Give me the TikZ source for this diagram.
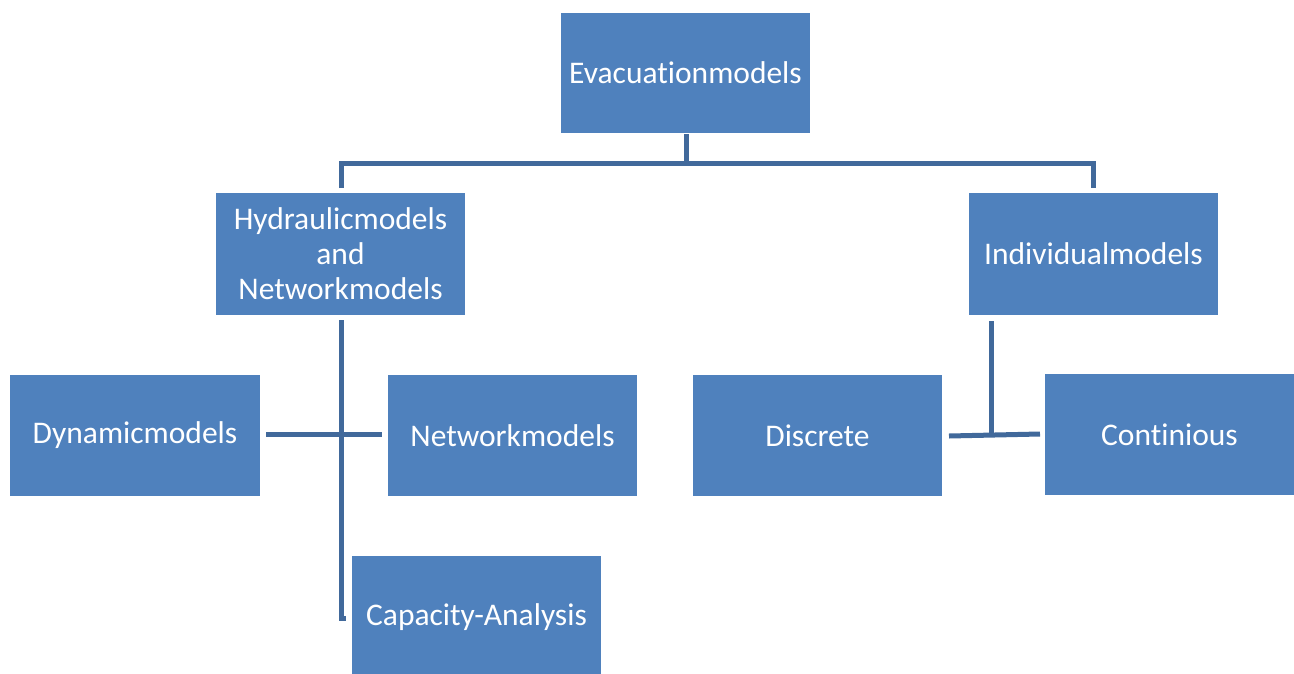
\documentclass[tikz,border=0pt]{standalone}
\usepackage{fontspec}
\setmainfont[Ligatures=NoCommon]{Carlito}
\definecolor{boxfill}{RGB}{79,129,189}
\definecolor{linkcol}{RGB}{65,105,155}
\begin{document}
\begin{tikzpicture}[x=1pt,y=-1pt,
  box/.style={fill=boxfill,draw=none,text=white,align=center,
    font=\fontsize{31.5}{35}\selectfont,inner sep=0pt},
  link/.style={draw=linkcol,line width=5pt}]
\useasboundingbox (0,0) rectangle (1294,673);
% boxes: corners given as (left,top) and (right,bottom)
\newcommand\mkbox[6]{%
  \path[fill=boxfill] (#2,#3) rectangle (#4,#5);
  \node[box] (#1) at ({(#2+#4)/2},{(#3+#5)/2}) {#6};
}
\mkbox{evac}{561}{13}{810}{133}{Evacuationmodels}
\mkbox{hyd}{216}{193}{465}{315}{Hydraulicmodels\\and\\Networkmodels}
\mkbox{ind}{969}{193}{1218}{315}{Individualmodels}
\mkbox{dyn}{10}{375}{260}{496}{Dynamicmodels}
\mkbox{net}{388}{375}{637}{496}{Networkmodels}
\mkbox{cap}{352}{556}{601}{678}{Capacity-Analysis}
\mkbox{dis}{693}{375}{942}{496}{Discrete}
\mkbox{con}{1045}{374}{1294}{495}{Continious}
% connector anchor points
\coordinate (t0) at (686,134);
\coordinate (tL) at (341,188);
\coordinate (tR) at (1093,188);
\coordinate (h0) at (341,320);
\coordinate (h1) at (346,618);
\coordinate (dL) at (266,434);
\coordinate (dR) at (382,434);
\coordinate (i0) at (991,321);
\coordinate (iL) at (949,436);
\coordinate (iR) at (1040,434);
% top level tree
\draw[link] (t0) -- (686,163);
\draw[link] (tL) |- (686,163) -| (tR);
% hydraulic branch
\draw[link] (h0) |- (h1);
\draw[link] (dL) -- (dR);
% individual branch
\draw[link] (i0) -- (991,435);
\draw[link] (iL) -- (iR);
\end{tikzpicture}
\end{document}
